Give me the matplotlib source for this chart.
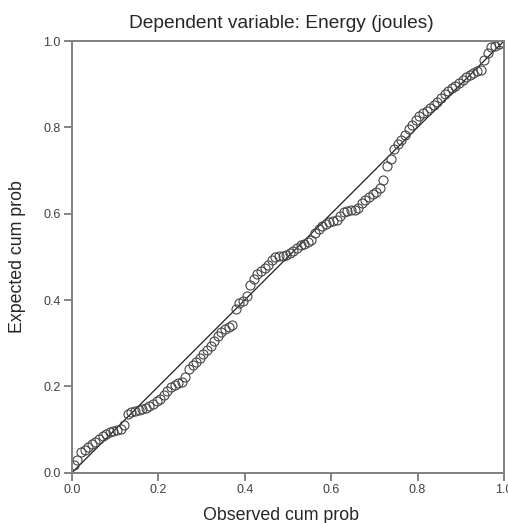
import matplotlib
matplotlib.use('Agg')
import matplotlib.pyplot as plt

plt.rcParams['font.family'] = ['Liberation Sans', 'DejaVu Sans']

# observed cumulative probability
obs = [0.004, 0.0125, 0.021, 0.029, 0.0375, 0.046, 0.054, 0.0625, 0.071, 0.079,
       0.0875, 0.096, 0.104, 0.1125, 0.121, 0.129, 0.1375, 0.146, 0.154, 0.1625,
       0.171, 0.179, 0.1875, 0.196, 0.204, 0.2125, 0.221, 0.229, 0.2375, 0.246,
       0.254, 0.2625, 0.271, 0.279, 0.2875, 0.296, 0.304, 0.3125, 0.321, 0.329,
       0.3375, 0.346, 0.354, 0.3625, 0.371, 0.379, 0.3875, 0.396, 0.404, 0.4125,
       0.421, 0.429, 0.4375, 0.446, 0.454, 0.4625, 0.471, 0.479, 0.4875, 0.496,
       0.504, 0.5125, 0.521, 0.529, 0.5375, 0.546, 0.554, 0.5625, 0.571, 0.579,
       0.5875, 0.596, 0.604, 0.6125, 0.621, 0.629, 0.6375, 0.646, 0.654, 0.6625,
       0.671, 0.679, 0.6875, 0.696, 0.704, 0.7125, 0.721, 0.729, 0.7375, 0.746,
       0.754, 0.7625, 0.771, 0.779, 0.7875, 0.796, 0.804, 0.8125, 0.821, 0.829,
       0.8375, 0.846, 0.854, 0.8625, 0.871, 0.879, 0.8875, 0.896, 0.904, 0.9125,
       0.921, 0.929, 0.9375, 0.946, 0.954, 0.9625, 0.971, 0.979, 0.9875, 0.996]

# expected cumulative probability
expd = [0.018, 0.030, 0.047, 0.052, 0.060, 0.066, 0.072, 0.078, 0.084, 0.090,
        0.095, 0.097, 0.099, 0.101, 0.110, 0.135, 0.140, 0.144, 0.146, 0.148,
        0.150, 0.154, 0.159, 0.165, 0.171, 0.181, 0.190, 0.199, 0.204, 0.207,
        0.211, 0.222, 0.240, 0.250, 0.256, 0.265, 0.274, 0.284, 0.294, 0.304,
        0.316, 0.327, 0.333, 0.337, 0.343, 0.380, 0.392, 0.398, 0.410, 0.435,
        0.448, 0.461, 0.468, 0.474, 0.482, 0.493, 0.499, 0.501, 0.503, 0.505,
        0.509, 0.514, 0.521, 0.527, 0.530, 0.534, 0.540, 0.556, 0.565, 0.571,
        0.577, 0.580, 0.583, 0.586, 0.595, 0.603, 0.607, 0.608, 0.609, 0.612,
        0.624, 0.632, 0.639, 0.645, 0.650, 0.660, 0.678, 0.710, 0.727, 0.750,
        0.762, 0.770, 0.783, 0.796, 0.806, 0.817, 0.827, 0.833, 0.839, 0.845,
        0.852, 0.859, 0.868, 0.877, 0.884, 0.890, 0.896, 0.903, 0.910, 0.917,
        0.922, 0.927, 0.930, 0.933, 0.955, 0.972, 0.985, 0.989, 0.993, 0.997]

ticks = [0.0, 0.2, 0.4, 0.6, 0.8, 1.0]
tick_labels = ['0.0', '0.2', '0.4', '0.6', '0.8', '1.0']

fig = plt.figure(figsize=(5.08, 5.23), dpi=100)
ax = fig.add_axes([0.1417, 0.0962, 0.8504, 0.8254])

ax.plot([0, 1], [0, 1], color='#202020', lw=0.9)
ax.plot(obs, expd, 'o', mfc='none', mec='#454545', mew=0.8, ms=6.5)

ax.set_xlim(0, 1)
ax.set_ylim(0, 1)
ax.set_xticks(ticks)
ax.set_xticklabels(tick_labels)
ax.set_yticks(ticks)
ax.set_yticklabels(tick_labels)
ax.tick_params(direction='out', length=6, width=1.2, color='#707070',
               labelsize=9, labelcolor='#404040', pad=2)
for s in ax.spines.values():
    s.set_color('#808080')
    s.set_linewidth(1.4)

fig.text(0.553, 1 - 23/523, 'Dependent variable: Energy (joules)', fontsize=13.8,
         color='#262626', ha='center', va='center')
fig.text(0.554, 1 - 516/523, 'Observed cum prob', fontsize=12.8,
         color='#262626', ha='center', va='center')
fig.text(17.5/508, 1 - 257/523, 'Expected cum prob', fontsize=12.8,
         color='#262626', ha='center', va='center', rotation=90)

fig.savefig('out.png', dpi=100, facecolor='w')
